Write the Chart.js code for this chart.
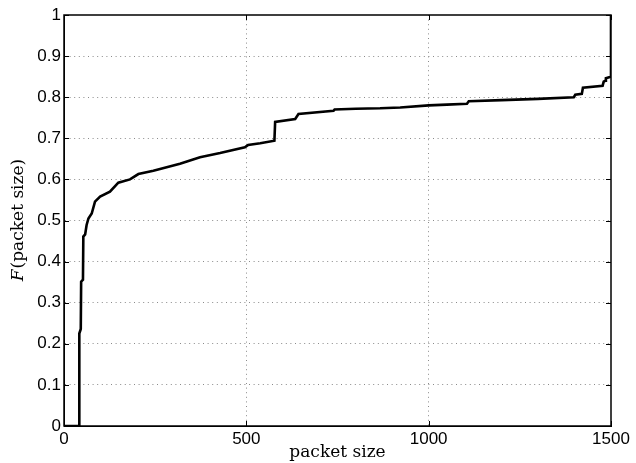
<!DOCTYPE html>
<html>
<head>
<meta charset="utf-8">
<script src="https://cdn.jsdelivr.net/npm/chart.js@4/dist/chart.umd.min.js"></script>
<style>
  html, body { margin: 0; padding: 0; background: #fff; }
  #wrap { width: 636px; height: 463px; position: relative; }
</style>
</head>
<body>
<div id="wrap"><canvas id="c" width="636" height="463"></canvas></div>
<script>
// Empirical CDF of packet sizes (bytes) -> F(packet size)
const packetSize = [0, 42, 42, 46, 47, 52, 53, 58, 62, 67, 76, 85, 99, 126, 149, 181, 204, 245, 318, 373, 428, 496, 505, 538, 577, 579, 634, 643, 739, 742, 800, 867, 922, 1000, 1050, 1105, 1110, 1200, 1300, 1398, 1402, 1420, 1423, 1477, 1480, 1484, 1486, 1497, 1500, 1500];
const cdfValue   = [0, 0, 0.225, 0.236, 0.351, 0.356, 0.461, 0.466, 0.489, 0.505, 0.517, 0.546, 0.558, 0.570, 0.592, 0.600, 0.613, 0.621, 0.638, 0.654, 0.664, 0.678, 0.684, 0.688, 0.694, 0.740, 0.747, 0.759, 0.767, 0.770, 0.772, 0.773, 0.775, 0.780, 0.782, 0.784, 0.790, 0.793, 0.796, 0.800, 0.806, 0.808, 0.823, 0.828, 0.838, 0.840, 0.846, 0.849, 0.850, 1.0];
const xTicks = [0, 500, 1000, 1500];
const yTicks = [0, 0.1, 0.2, 0.3, 0.4, 0.5, 0.6, 0.7, 0.8, 0.9, 1];

const points = packetSize.map((x, i) => ({ x: x, y: cdfValue[i] }));

const sans = "'Liberation Sans', Arial, sans-serif";
const serif = "'DejaVu Serif', serif";
const tickFont = { family: sans, size: 17 };

// box frame, inward ticks and the y-axis title with an italic F
const framePlugin = {
  id: 'frame',
  afterDraw(chart) {
    const { ctx, chartArea: a, scales } = chart;
    ctx.save();
    ctx.strokeStyle = '#000';
    ctx.lineWidth = 1;
    ctx.beginPath();
    const tl = 5;
    yTicks.forEach(v => {
      const y = Math.round(scales.y.getPixelForValue(v)) + 0.5;
      ctx.moveTo(a.left, y); ctx.lineTo(a.left + tl, y);
      ctx.moveTo(a.right, y); ctx.lineTo(a.right - tl, y);
    });
    xTicks.forEach(v => {
      const x = Math.round(scales.x.getPixelForValue(v)) + 0.5;
      ctx.moveTo(x, a.bottom); ctx.lineTo(x, a.bottom - tl);
      ctx.moveTo(x, a.top); ctx.lineTo(x, a.top + tl);
    });
    ctx.stroke();
    ctx.lineWidth = 1.5;
    ctx.strokeRect(a.left, a.top, a.right - a.left, a.bottom - a.top);

    // y title
    ctx.fillStyle = '#000';
    const part1 = 'F';
    const part2 = '(packet size)';
    ctx.font = 'italic 17px ' + serif;
    const w1 = ctx.measureText(part1).width;
    ctx.font = '17px ' + serif;
    const w2 = ctx.measureText(part2).width;
    const cy = (a.top + a.bottom) / 2;
    ctx.translate(19, cy);
    ctx.rotate(-Math.PI / 2);
    ctx.textBaseline = 'middle';
    ctx.textAlign = 'left';
    const start = -(w1 + w2) / 2;
    ctx.font = 'italic 17px ' + serif;
    ctx.fillText(part1, start, 0);
    ctx.font = '17px ' + serif;
    ctx.fillText(part2, start + w1 + 1, 0);
    ctx.restore();
  }
};

const gridStyle = (ctx, last) => {
  const v = ctx.tick ? ctx.tick.value : null;
  if (v === null || v === 0 || Math.abs(v - last) < 1e-9) return 'rgba(0,0,0,0)';
  return '#8a8a8a';
};

new Chart(document.getElementById('c'), {
  type: 'scatter',
  data: {
    datasets: [{
      data: points,
      showLine: true,
      borderColor: '#000',
      borderWidth: 2.6,
      pointRadius: 0,
      tension: 0,
      fill: false
    }]
  },
  options: {
    responsive: false,
    animation: false,
    layout: { padding: { top: 15, right: 25, left: 0, bottom: 0 } },
    plugins: { legend: { display: false }, tooltip: { enabled: false } },
    scales: {
      x: {
        type: 'linear',
        min: 0, max: 1500,
        afterBuildTicks: s => { s.ticks = xTicks.map(v => ({ value: v })); },
        afterFit: s => { s.height = 37; },
        ticks: { font: tickFont, color: '#000', padding: 3, maxRotation: 0, callback: v => String(v) },
        grid: {
          drawTicks: false,
          color: c => gridStyle(c, 1500),
          lineWidth: 1
        },
        border: { display: true, color: '#000', width: 1, dash: [1, 3.6] },
        title: {
          display: true,
          text: 'packet size',
          font: { family: serif, size: 17 },
          color: '#000',
          padding: { top: -2, bottom: 0 }
        }
      },
      y: {
        type: 'linear',
        min: 0, max: 1,
        afterBuildTicks: s => { s.ticks = yTicks.map(v => ({ value: v })); },
        afterFit: s => { s.width = 64; },
        ticks: { font: tickFont, color: '#000', padding: 3, callback: v => String(Math.round(v * 10) / 10) },
        grid: {
          drawTicks: false,
          color: c => gridStyle(c, 1),
          lineWidth: 1
        },
        border: { display: true, color: '#000', width: 1, dash: [1, 3.6] }
      }
    }
  },
  plugins: [framePlugin]
});
</script>
</body>
</html>
